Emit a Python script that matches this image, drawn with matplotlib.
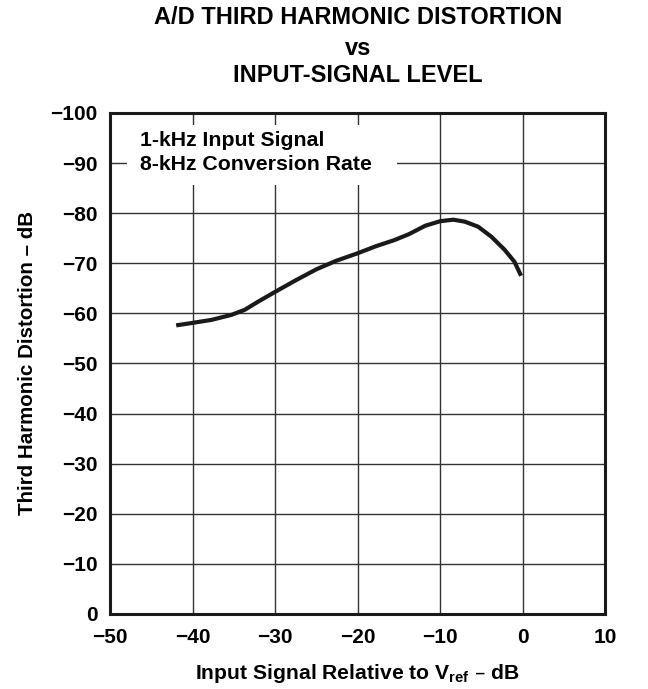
import matplotlib.pyplot as plt
from matplotlib.patches import Rectangle

# curve
signal_db = [-42, -40, -37.7, -35.3, -33.7, -32.1, -30, -27.4, -25, -22.6, -20,
             -17.8, -15.6, -13.8, -11.8, -10, -8.4, -7, -5.4, -3.8, -2.2, -1.0, -0.2]
thd_db = [-57.6, -58.1, -58.7, -59.7, -60.7, -62.3, -64.3, -66.7, -68.8, -70.5,
          -72, -73.4, -74.6, -75.8, -77.5, -78.4, -78.7, -78.3, -77.3, -75.3,
          -72.7, -70.3, -67.5]
x_ticks = [-50, -40, -30, -20, -10, 0, 10]
y_ticks = [0, -10, -20, -30, -40, -50, -60, -70, -80, -90, -100]

plt.rcParams["font.family"] = ["Liberation Sans", "DejaVu Sans"]
plt.rcParams["font.weight"] = "bold"

fig = plt.figure(figsize=(6.48, 6.89), dpi=100)
ax = fig.add_axes([0.170, 0.109, 0.764, 0.727])

ax.plot(signal_db, thd_db, color="#1a1a1a", lw=3.0, solid_capstyle="butt",
        solid_joinstyle="round", zorder=3)

ax.set_xlim(-50, 10)
ax.set_ylim(0, -100)
ax.set_xticks(x_ticks)
ax.set_yticks(y_ticks)
ax.set_xticklabels([str(v).replace("-", "\u2212") for v in x_ticks])
ax.set_yticklabels([str(v).replace("-", "\u2212") for v in y_ticks])
ax.tick_params(axis="x", length=0, pad=10, labelsize=15)
ax.tick_params(axis="y", length=0, pad=9, labelsize=15)
ax.grid(True, color="#333333", lw=1.0)
ax.set_axisbelow(True)
for s in ax.spines.values():
    s.set_linewidth(2.2)
    s.set_color("#1a1a1a")

# white panel behind the note
ax.add_patch(Rectangle((-47.9, -97.6), 32.7, 12.0, facecolor="white",
                       edgecolor="none", zorder=2))
ax.text(-46.4, -92.1, "1-kHz Input Signal\n8-kHz Conversion Rate", fontsize=15.3,
        fontweight="bold", va="center", ha="left", linespacing=1.35, zorder=3)

ax.set_xlabel(r"Input Signal Relative to V$_{\mathregular{ref}}$ – dB",
              fontsize=15.2, fontweight="bold", labelpad=11)
ax.set_ylabel("Third Harmonic Distortion – dB", fontsize=14.8, fontweight="bold",
              labelpad=10)

fig.text(0.552, 0.975, "A/D THIRD HARMONIC DISTORTION", ha="center", va="center",
         fontsize=17, fontweight="bold")
fig.text(0.552, 0.929, "vs", ha="center", va="center", fontsize=17,
         fontweight="bold")
fig.text(0.552, 0.891, "INPUT-SIGNAL LEVEL", ha="center", va="center",
         fontsize=17, fontweight="bold")

fig.savefig("out.png", dpi=100)
